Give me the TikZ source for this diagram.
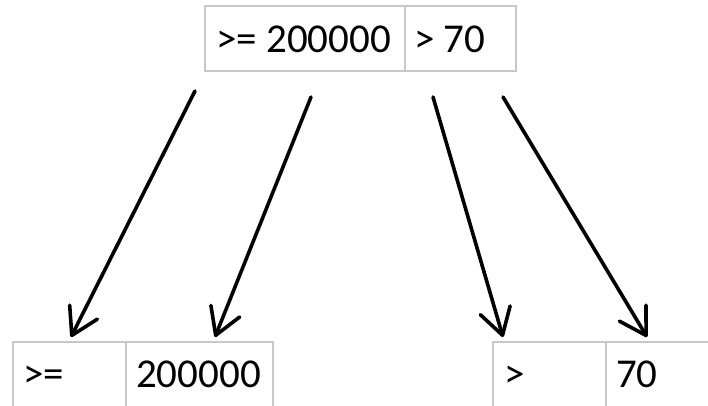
\documentclass[tikz,border=0pt]{standalone}
\usepackage{fontspec}
\setmainfont{Carlito}
\usetikzlibrary{arrows.meta}
\begin{document}
\begin{tikzpicture}[x=1pt,y=-1pt,
  cellline/.style={draw=black!22, line width=1.3pt},
  lbl/.style={anchor=base west, inner sep=0pt, font=\fontsize{41}{48}\selectfont},
  arr/.style={line width=3.6pt, line cap=round, -{Straight Barb[length=26pt,width=31pt,line width=3.6pt,round]}}]
\useasboundingbox (0,0) rectangle (708,406);
\clip (0,0) rectangle (708,406);
% top box
\draw[cellline] (205,6) rectangle (516,71);
\draw[cellline] (405,6) -- (405,71);
% bottom left box
\draw[cellline] (13,342) rectangle (273,430);
\draw[cellline] (126,342) -- (126,430);
% bottom right box
\draw[cellline] (493,342) rectangle (740,430);
\draw[cellline] (606,342) -- (606,430);
% texts
\node[lbl] (ta) at (216,53) {>= 200000};
\node[lbl] (tb) at (414,53) {> 70};
\node[lbl] (ba) at (23,387) {>=};
\node[lbl] (bb) at (136,387) {200000};
\node[lbl] (bc) at (504,387) {>};
\node[lbl] (bd) at (616,387) {70};
% arrow ends
\coordinate (s1) at (195,91);
\coordinate (s2) at (311,97);
\coordinate (s3) at (433,97);
\coordinate (s4) at (503,97);
\coordinate (e1) at (71,337);
\coordinate (e2) at (215,337);
\coordinate (e3) at (503,337);
\coordinate (e4) at (647,337);
\draw[arr] (s1) -- (e1);
\draw[arr] (s2) -- (e2);
\draw[arr] (s3) -- (e3);
\draw[arr] (s4) -- (e4);
\end{tikzpicture}
\end{document}
